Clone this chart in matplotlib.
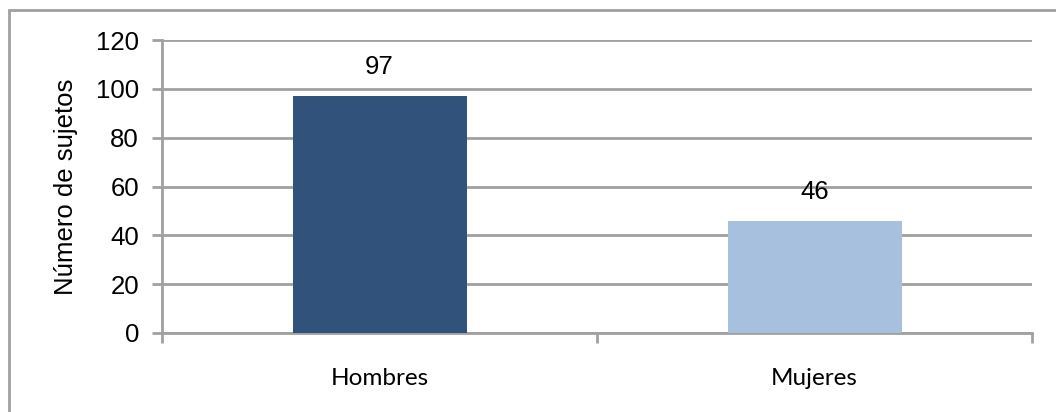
import matplotlib.pyplot as plt
from matplotlib.patches import Rectangle

# Data
categories = ['Hombres', 'Mujeres']
counts = [97, 46]
bar_colors = ['#31527A', '#A7C0DE']
yticks = [0, 20, 40, 60, 80, 100, 120]

GRAY = '#A0A0A0'

fig = plt.figure(figsize=(10.56, 4.12), dpi=100)

# outer chart frame (right and bottom edges fall outside the image)
fig.patches.append(Rectangle((8.5 / 1056, -10 / 412), 1060 / 1056, 412.5 / 412,
                             transform=fig.transFigure, fill=False,
                             edgecolor=GRAY, linewidth=2))

ax = fig.add_axes([162 / 1056, 1 - 333 / 412, 870 / 1056, 293 / 412])

x = range(len(categories))
ax.bar(x, counts, width=0.4, color=bar_colors, zorder=3)

# value labels
for xi, v in zip(x, counts):
    ax.text(xi, v + 7, str(v), ha='center', va='bottom',
            fontsize=18.5, family='Liberation Sans', color='black')

ax.set_xlim(-0.5, len(categories) - 0.5)
ax.set_ylim(0, 120)
ax.set_yticks(yticks)
ax.set_yticklabels([str(t) for t in yticks], family='Liberation Sans', fontsize=18.5)
ax.yaxis.grid(True, color=GRAY, linewidth=2, zorder=0)
ax.set_axisbelow(True)

# x: category labels centered, tick marks at boundaries
ax.set_xticks([-0.5, 0.5, 1.5])
ax.set_xticklabels([])
ax.set_xticks(list(x), minor=True)
ax.set_xticklabels(categories, minor=True, family='Lato', fontsize=17.5)
ax.tick_params(axis='x', which='minor', length=0, pad=25)
ax.tick_params(axis='x', which='major', length=7, width=2, color=GRAY)
ax.tick_params(axis='y', length=7, width=2, color=GRAY, pad=9.5)

ax.set_ylabel('Número de sujetos', family='Liberation Sans', fontsize=18.5, labelpad=13)

for side in ['top', 'right']:
    ax.spines[side].set_visible(False)
for side in ['left', 'bottom']:
    ax.spines[side].set_color(GRAY)
    ax.spines[side].set_linewidth(2)

fig.savefig('out.png', dpi=100)
